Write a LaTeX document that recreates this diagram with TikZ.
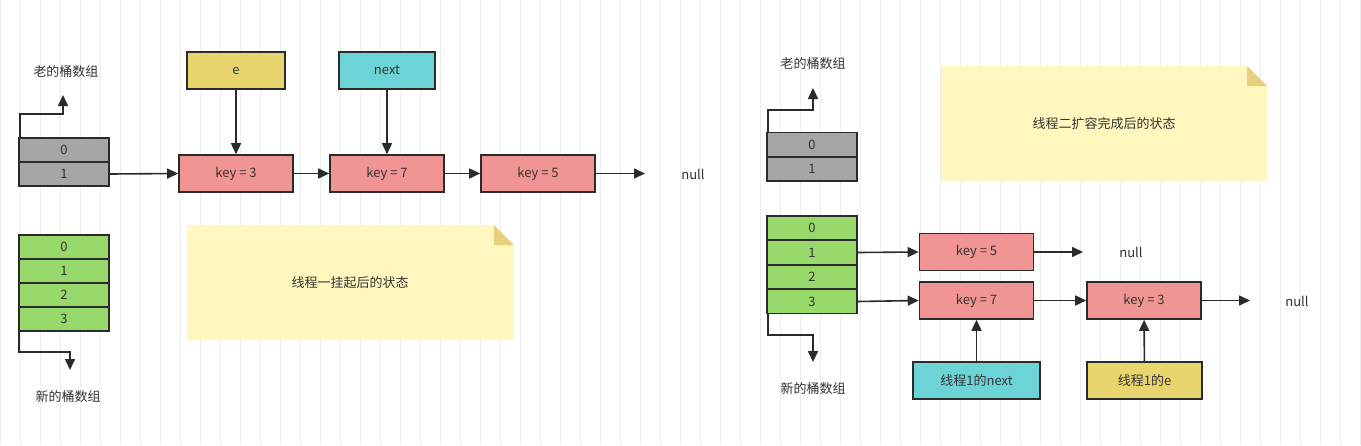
\documentclass[tikz,border=0pt]{standalone}
\usepackage{fontspec}
\setmainfont{Noto Sans CJK SC}
\usetikzlibrary{arrows.meta}
\definecolor{stk}{HTML}{2B2B2B}
\definecolor{gry}{HTML}{A6A6A6}
\definecolor{grn}{HTML}{97D96A}
\definecolor{rd}{HTML}{F19594}
\definecolor{ylw}{HTML}{E8D56E}
\definecolor{cyn}{HTML}{6CD4D6}
\definecolor{nt}{HTML}{FFF7BE}
\definecolor{fld}{HTML}{E8D07B}
\definecolor{txt}{HTML}{333333}
\tikzset{
 box/.style={draw=stk,line width=1.6pt,minimum width=#1,minimum height=24pt,inner sep=0pt,text=txt,font=\fontsize{13}{15}\selectfont},
 cell/.style={box=90pt,minimum height=24pt},
 kbox/.style={box=114pt,minimum height=37pt,fill=rd},
 lbl/.style={text=txt,font=\fontsize{13}{15}\selectfont},
 arr/.style={draw=stk,line width=1.6pt,-{Triangle[length=11pt,width=10pt]}},
}
\begin{document}
\begin{tikzpicture}[x=1pt,y=-1pt]
\useasboundingbox (0,0) rectangle (1361,445);
\fill[white] (0,0) rectangle (1361,445);
\draw[black!7,line width=0.6pt] (0,0) grid[step=20] (1361,445);
% notes
\fill[nt] (187,225) -- (494,225) -- (514,245) -- (514,340) -- (187,340) -- cycle;
\fill[fld] (494,225) -- (514,245) -- (494,245) -- cycle;
\node[lbl] (n1) at (350,283) {线程一挂起后的状态};
\fill[nt] (941,66) -- (1247,66) -- (1267,86) -- (1267,181) -- (941,181) -- cycle;
\fill[fld] (1247,66) -- (1267,86) -- (1247,86) -- cycle;
\node[lbl] (n2) at (1104,124) {线程二扩容完成后的状态};
% left old array
\node[cell,fill=gry] (lo0) at (64,150) {0};
\node[cell,fill=gry] (lo1) at (64,174) {1};
\coordinate (lou) at (63,95);
\draw[arr] ([xshift=2pt]lo0.north west) |- (63,114) -- (lou);
\node[lbl] (lol) at (66,72) {老的桶数组};
% left new array
\node[cell,fill=grn] (ln0) at (64,247) {0};
\node[cell,fill=grn] (ln1) at (64,271) {1};
\node[cell,fill=grn] (ln2) at (64,295) {2};
\node[cell,fill=grn] (ln3) at (64,319) {3};
\coordinate (lnd) at (70,370);
\draw[arr] ([xshift=1pt]ln3.south west) |- (70,352) -- (lnd);
\node[lbl] (lnl) at (68,397) {新的桶数组};
% left chain
\node[box=98pt,minimum height=37pt,fill=ylw] (le) at (236,70.5) {e};
\node[box=96pt,minimum height=37pt,fill=cyn] (lnx) at (387,70.5) {next};
\node[kbox] (lk3) at (236,173.5) {key = 3};
\node[kbox] (lk7) at (387,173.5) {key = 7};
\node[kbox] (lk5) at (538,173.5) {key = 5};
\node[lbl] (lnull) at (693,174) {null};
\coordinate (lend) at (645,173.5);
\draw[arr] (lo1.east) -- (lk3.west);
\draw[arr] (lk3) -- (lk7);
\draw[arr] (lk7) -- (lk5);
\draw[arr] (lk5.east) -- (lend);
\draw[arr] (le) -- (lk3);
\draw[arr] (lnx) -- (lk7);
% right old array
\node[cell,fill=gry] (ro0) at (812,144.5) {0};
\node[cell,fill=gry] (ro1) at (812,169) {1};
\coordinate (rou) at (813,88);
\draw[arr] ([xshift=2pt]ro0.north west) |- (813,110) -- (rou);
\node[lbl] (rol) at (813,64) {老的桶数组};
% right new array
\node[cell,fill=grn] (rn0) at (812,228) {0};
\node[cell,fill=grn] (rn1) at (812,252.5) {1};
\node[cell,fill=grn] (rn2) at (812,277) {2};
\node[cell,fill=grn] (rn3) at (812,301.5) {3};
\coordinate (rnd) at (813,362);
\draw[arr] ([xshift=2pt]rn3.south west) |- (813,335) -- (rnd);
\node[lbl] (rnl) at (813,389) {新的桶数组};
% right chain
\node[kbox] (rk5) at (976.5,252) {key = 5};
\node[kbox] (rk7) at (976.5,300.5) {key = 7};
\node[kbox] (rk3) at (1144,300.5) {key = 3};
\node[lbl] (rnull1) at (1131,252) {null};
\node[lbl] (rnull2) at (1297,301) {null};
\coordinate (re1) at (1083,252);
\coordinate (re2) at (1250,300.5);
\draw[arr] (rn1.east) -- (rk5.west);
\draw[arr] (rn3.east) -- (rk7.west);
\draw[arr] (rk5.east) -- (re1);
\draw[arr] (rk7) -- (rk3);
\draw[arr] (rk3.east) -- (re2);
\node[box=127pt,minimum height=37pt,fill=cyn] (rnx) at (976.5,380.5) {线程1的next};
\node[box=115pt,minimum height=37pt,fill=ylw] (re) at (1144.5,380.5) {线程1的e};
\draw[arr] (rnx) -- (rk7);
\draw[arr] (re) -- (rk3);
\end{tikzpicture}
\end{document}
